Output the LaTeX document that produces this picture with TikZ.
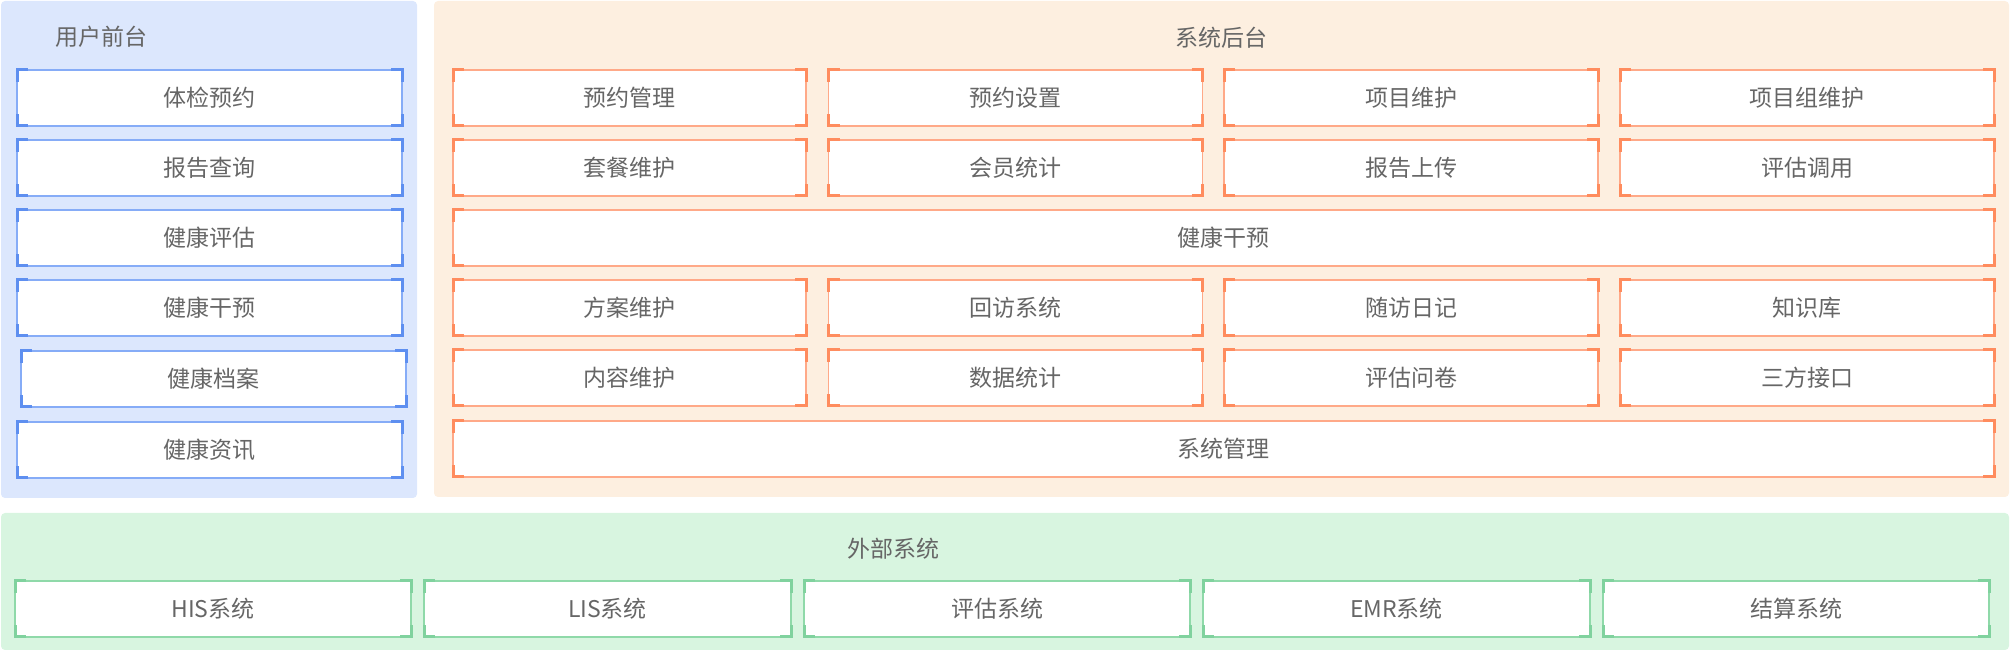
\documentclass[tikz,border=0pt]{standalone}
\usepackage{fontspec}
\setmainfont{Noto Sans CJK SC}
\usepackage{xcolor}

\definecolor{ubg}{HTML}{DCE7FD}
\definecolor{uline}{HTML}{86ACF7}
\definecolor{ubr}{HTML}{5E8FF0}
\definecolor{obg}{HTML}{FDEFE0}
\definecolor{oline}{HTML}{FFA988}
\definecolor{obr}{HTML}{FF8C5E}
\definecolor{gbg}{HTML}{D8F5E0}
\definecolor{gline}{HTML}{8FD9A9}
\definecolor{gbr}{HTML}{80D29E}
\definecolor{txt}{HTML}{666666}

% 四角括号
\newcommand{\jiao}[2]{%
  \draw[#2,line width=1.5pt] (#1.north west) ++(11,0) -- ++(-11,0) -- ++(0,12);
  \draw[#2,line width=1.5pt] (#1.north east) ++(-11,0) -- ++(11,0) -- ++(0,12);
  \draw[#2,line width=1.5pt] (#1.south west) ++(11,0) -- ++(-11,0) -- ++(0,-12);
  \draw[#2,line width=1.5pt] (#1.south east) ++(-11,0) -- ++(11,0) -- ++(0,-12);
}

\tikzset{
  mk/.style={draw=#1,line width=0.6pt,fill=white,outer sep=0pt,inner sep=0pt,
    minimum height=28pt,text=txt,font=\fontsize{11.5pt}{14pt}\selectfont},
  ubox/.style={mk=uline,minimum width=192.5pt},
  obox/.style={mk=oline,minimum width=187pt},
  gbox/.style={mk=gline},
  title/.style={text=txt,font=\fontsize{11.5pt}{14pt}\selectfont}
}

\begin{document}
\begin{tikzpicture}[x=0.5pt,y=-0.5pt]
  \useasboundingbox (0,0) rectangle (2010,651);
  % 底色
  \fill[ubg,rounded corners=2pt] (1,1) rectangle (417,498);
  \fill[obg,rounded corners=2pt] (434,1) rectangle (2009,497);
  \fill[gbg,rounded corners=2pt] (1,513) rectangle (2009,650);

  % 用户前台
  \node[title] (ut) at (101,37) {用户前台};
  \node[ubox] (u1) at (209.5,98) {体检预约};
  \node[ubox] (u2) at (209.5,168) {报告查询};
  \node[ubox] (u3) at (209.5,238) {健康评估};
  \node[ubox] (u4) at (209.5,308) {健康干预};
  \node[ubox] (u5) at (213.5,379) {健康档案};
  \node[ubox] (u6) at (209.5,450) {健康资讯};
  \foreach \i in {1,...,6} \jiao{u\i}{ubr};

  % 系统后台
  \node[title] (ot) at (1221,38) {系统后台};
  \node[obox,minimum width=176.5pt] (o11) at (629.5,98) {预约管理};
  \node[obox] (o12) at (1015.5,98) {预约设置};
  \node[obox] (o13) at (1411,98) {项目维护};
  \node[obox] (o14) at (1807,98) {项目组维护};
  \node[obox,minimum width=176.5pt] (o21) at (629.5,168) {套餐维护};
  \node[obox] (o22) at (1015.5,168) {会员统计};
  \node[obox] (o23) at (1411,168) {报告上传};
  \node[obox] (o24) at (1807,168) {评估调用};
  \node[obox,minimum width=770.5pt] (o3) at (1223.5,238) {健康干预};
  \node[obox,minimum width=176.5pt] (o41) at (629.5,308) {方案维护};
  \node[obox] (o42) at (1015.5,308) {回访系统};
  \node[obox] (o43) at (1411,308) {随访日记};
  \node[obox] (o44) at (1807,308) {知识库};
  \node[obox,minimum width=176.5pt] (o51) at (629.5,378) {内容维护};
  \node[obox] (o52) at (1015.5,378) {数据统计};
  \node[obox] (o53) at (1411,378) {评估问卷};
  \node[obox] (o54) at (1807,378) {三方接口};
  \node[obox,minimum width=770.5pt] (o6) at (1223.5,449) {系统管理};
  \foreach \n in {o11,o12,o13,o14,o21,o22,o23,o24,o3,o41,o42,o43,o44,o51,o52,o53,o54,o6}
    \jiao{\n}{obr};

  % 外部系统
  \node[title] (gt) at (893,549) {外部系统};
  \node[gbox,minimum width=198pt] (g1) at (213,609) {HIS系统};
  \node[gbox,minimum width=183.5pt] (g2) at (607.5,609) {LIS系统};
  \node[gbox,minimum width=193pt] (g3) at (997,609) {评估系统};
  \node[gbox,minimum width=193.5pt] (g4) at (1396.5,609) {EMR系统};
  \node[gbox,minimum width=193pt] (g5) at (1796,609) {结算系统};
  \foreach \i in {1,...,5} \jiao{g\i}{gbr};
\end{tikzpicture}
\end{document}
